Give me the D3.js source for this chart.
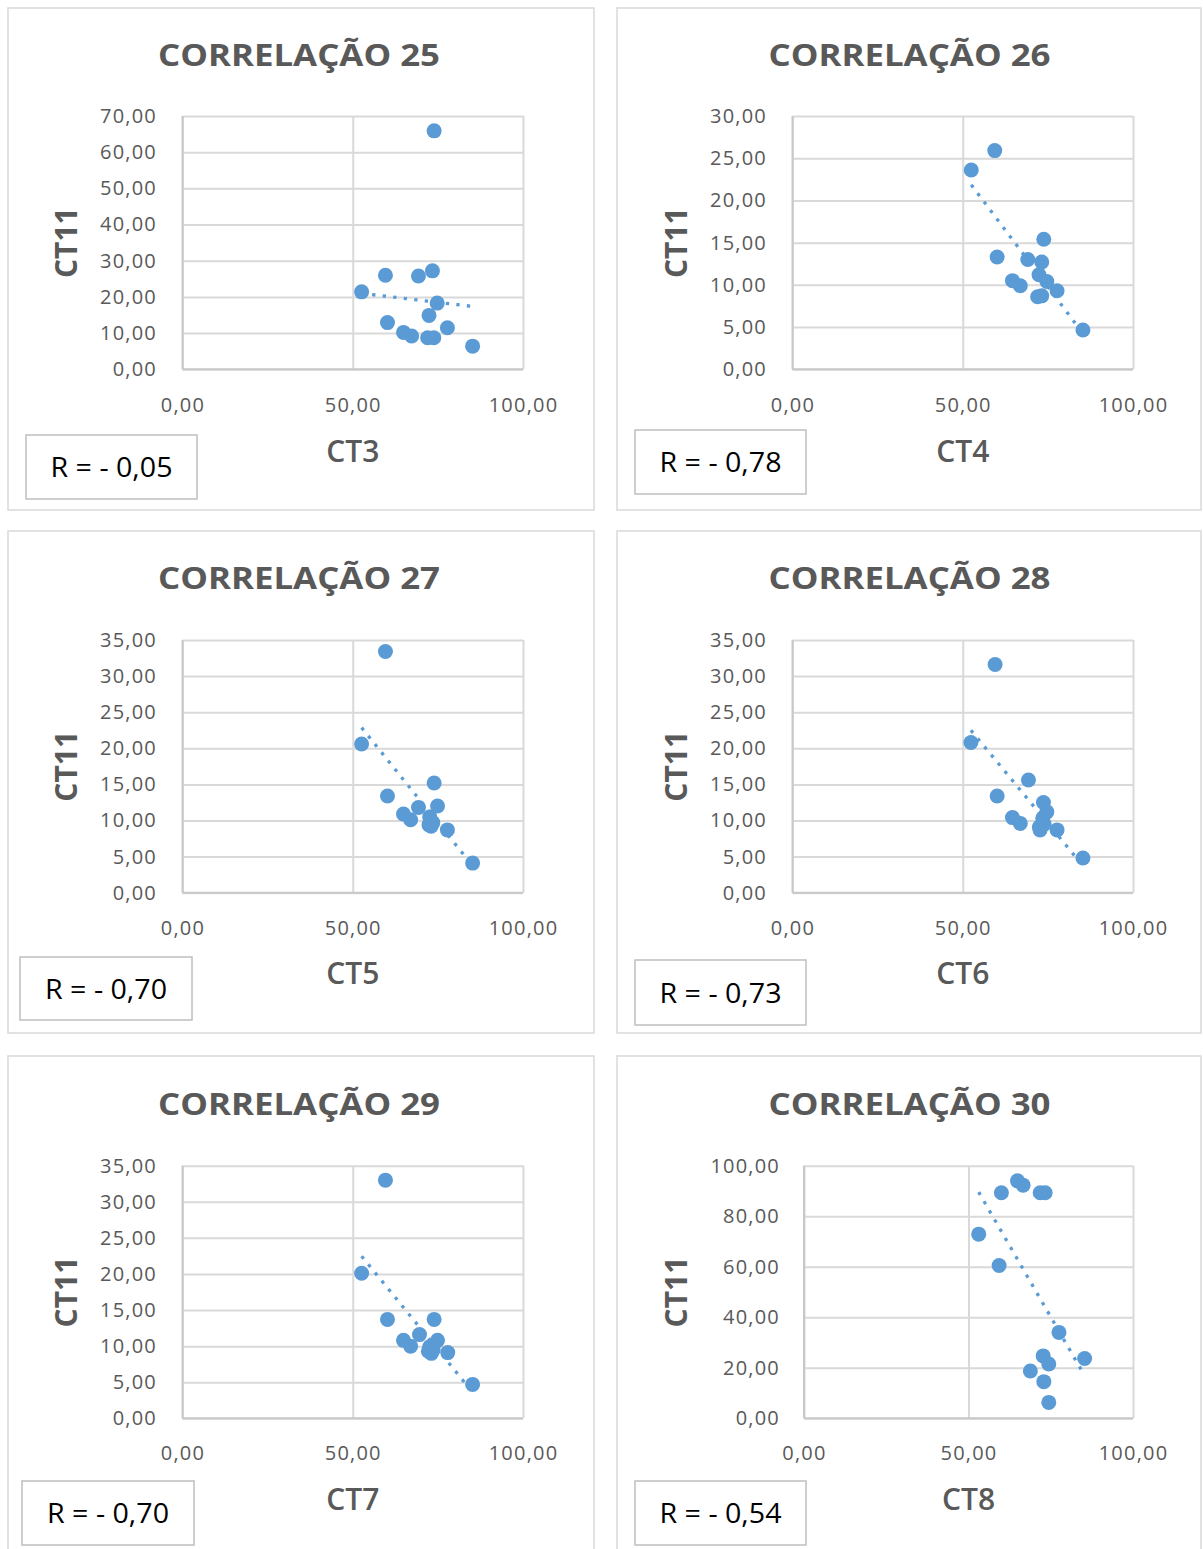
<!DOCTYPE html>
<html>
<head>
<meta charset="utf-8">
<script src="https://cdn.jsdelivr.net/npm/d3@7"></script>
<style>
  html, body { margin: 0; padding: 0; background: #fff; }
  svg { display: block; }
</style>
</head>
<body>
<svg id="chart" width="1203" height="1549"></svg>
<script>
// ---------- DATA ----------
const titles = ["CORRELAÇÃO 25", "CORRELAÇÃO 26", "CORRELAÇÃO 27", "CORRELAÇÃO 28", "CORRELAÇÃO 29", "CORRELAÇÃO 30"];
const xTitles = ["CT3", "CT4", "CT5", "CT6", "CT7", "CT8"];
const yTitle = "CT11";
const rLabels = ["R = - 0,05", "R = - 0,78", "R = - 0,70", "R = - 0,73", "R = - 0,70", "R = - 0,54"];
const yMaxes = [70, 30, 35, 35, 35, 100];
const ySteps = [10, 5, 5, 5, 5, 20];
const xTickValues = [0, 50, 100];

const ct3X = [52.6, 59.6, 60.2, 64.9, 67.3, 69.3, 72.0, 72.4, 73.4, 73.8, 73.9, 74.8, 77.8, 85.2];
const ct3Y = [21.4, 26.0, 12.9, 10.2, 9.2, 25.8, 8.7, 14.9, 27.2, 8.7, 65.9, 18.3, 11.5, 6.4];

const ct4X = [52.5, 59.4, 60.1, 64.6, 66.9, 69.1, 72.0, 72.4, 73.2, 73.2, 73.8, 74.7, 77.7, 85.3];
const ct4Y = [23.6, 25.9, 13.3, 10.5, 9.9, 13.0, 8.6, 11.2, 12.7, 8.7, 15.4, 10.4, 9.3, 4.65];

const ct5X = [52.6, 59.6, 60.2, 64.9, 67.0, 69.3, 72.4, 72.6, 73.0, 73.5, 73.9, 74.9, 77.8, 85.2];
const ct5Y = [20.6, 33.4, 13.4, 10.9, 10.1, 11.8, 9.4, 10.5, 9.2, 9.7, 15.2, 12.0, 8.7, 4.1];

const ct6X = [52.4, 59.5, 60.1, 64.6, 66.9, 69.3, 72.5, 72.7, 73.5, 73.7, 73.9, 74.7, 77.7, 85.3];
const ct6Y = [20.8, 31.6, 13.4, 10.4, 9.6, 15.6, 9.1, 8.7, 10.3, 12.5, 9.5, 11.2, 8.7, 4.8];

const ct7X = [52.6, 59.6, 60.2, 64.9, 67.0, 69.6, 72.2, 72.6, 73.1, 73.6, 73.9, 74.9, 77.9, 85.2];
const ct7Y = [20.1, 33.0, 13.7, 10.8, 10.0, 11.6, 9.3, 9.9, 9.0, 9.5, 13.7, 10.8, 9.1, 4.7];

const ct8X = [53.1, 59.3, 60.0, 64.9, 66.6, 68.8, 71.8, 72.7, 72.9, 73.3, 74.4, 74.4, 77.5, 85.3];
const ct8Y = [72.9, 60.5, 89.3, 94.0, 92.3, 18.7, 89.3, 24.7, 14.5, 89.3, 21.5, 6.3, 34.0, 23.7];

const seriesX = [ct3X, ct4X, ct5X, ct6X, ct7X, ct8X];
const seriesY = [ct3Y, ct4Y, ct5Y, ct6Y, ct7Y, ct8Y];

// ---------- LAYOUT ----------
const rows = [
  { top: 8,    plotTop: 116,    plotBot: 369.3,  titleY: 66,   tickY: 405,  xTitleY: 462 },
  { top: 531,  plotTop: 640,    plotBot: 892.7,  titleY: 589,  tickY: 928,  xTitleY: 984 },
  { top: 1056, plotTop: 1165.7, plotBot: 1418.3, titleY: 1115, tickY: 1453, xTitleY: 1510 }
];
const cols = [
  { left: 8,   width: 586, plotL: 182.5, plotR: 523,  titleX: 299,   yTitleX: 66,  tickRight: 157 },
  { left: 617, width: 584, plotL: 792.5, plotR: 1133, titleX: 909.5, yTitleX: 676, tickRight: 767 }
];
const rBoxes = [
  [26, 435, 171, 64], [635, 430, 171, 64],
  [20, 957, 172, 63], [635, 960, 171, 65],
  [22, 1481, 172, 64], [635, 1481, 171, 64]
];

const svg = d3.select("#chart");
const FONT = "'Open Sans', 'Noto Sans', sans-serif";
const GRAY = "#595959";
const BLUE = "#5b9bd5";
const fmt = v => d3.format(".2f")(v).replace(".", ",");

for (let i = 0; i < 6; i++) {
  const row = rows[Math.floor(i / 2)];
  const col = cols[i % 2];
  const g = svg.append("g");

  // panel border
  const panelH = (i >= 4) ? 520 : 502;
  g.append("rect")
    .attr("x", col.left).attr("y", row.top)
    .attr("width", col.width).attr("height", panelH)
    .attr("fill", "#fff").attr("stroke", "#d9d9d9").attr("stroke-width", 1.5);

  const plotL = (i === 5) ? 804 : col.plotL;
  const plotR = col.plotR;
  const tickRight = (i === 5) ? 780 : col.tickRight;
  const x = d3.scaleLinear().domain([0, 100]).range([plotL, plotR]);
  const y = d3.scaleLinear().domain([0, yMaxes[i]]).range([row.plotBot, row.plotTop]);
  const yTicks = d3.range(0, yMaxes[i] + ySteps[i] / 2, ySteps[i]);

  // y axis + horizontal gridlines
  const yg = g.append("g").attr("transform", `translate(${plotL},0)`).call(
    d3.axisLeft(y).tickValues(yTicks).tickSize(-(plotR - plotL)).tickFormat(fmt)
  );
  yg.select(".domain").remove();
  yg.selectAll(".tick line").attr("stroke", "#d9d9d9").attr("stroke-width", 2);
  yg.selectAll(".tick text")
    .attr("x", -(plotL - tickRight))
    .attr("fill", GRAY).attr("font-family", FONT).attr("font-size", 20)
    .attr("letter-spacing", 1.2);

  // x axis + vertical gridlines
  const xg = g.append("g").attr("transform", `translate(0,${row.plotBot})`).call(
    d3.axisBottom(x).tickValues(xTickValues).tickSize(-(row.plotBot - row.plotTop)).tickFormat(fmt)
  );
  xg.select(".domain").remove();
  xg.selectAll(".tick line").attr("stroke", "#d9d9d9").attr("stroke-width", 2);
  xg.selectAll(".tick text")
    .attr("y", row.tickY - row.plotBot).attr("dy", "0.35em")
    .attr("fill", GRAY).attr("font-family", FONT).attr("font-size", 20)
    .attr("letter-spacing", 1.2);

  // axis lines
  g.append("line").attr("x1", plotL).attr("x2", plotL).attr("y1", row.plotTop).attr("y2", row.plotBot)
    .attr("stroke", "#c8c8c8").attr("stroke-width", 2);
  g.append("line").attr("x1", plotL).attr("x2", plotR).attr("y1", row.plotBot).attr("y2", row.plotBot)
    .attr("stroke", "#c8c8c8").attr("stroke-width", 2);

  // trend line (least squares)
  const xs = seriesX[i], ys = seriesY[i];
  const mx = d3.mean(xs), my = d3.mean(ys);
  let sxy = 0, sxx = 0;
  xs.forEach((v, k) => { sxy += (v - mx) * (ys[k] - my); sxx += (v - mx) * (v - mx); });
  const slope = sxy / sxx, icpt = my - slope * mx;
  const ext = d3.extent(xs);
  g.append("line")
    .attr("x1", x(ext[0])).attr("y1", y(icpt + slope * ext[0]))
    .attr("x2", x(ext[1])).attr("y2", y(icpt + slope * ext[1]))
    .attr("stroke", BLUE).attr("stroke-width", 3.3).attr("stroke-dasharray", "3.3 7.3");

  // points
  g.selectAll("circle.pt").data(xs.map((v, k) => [v, ys[k]])).join("circle")
    .attr("class", "pt")
    .attr("cx", d => x(d[0])).attr("cy", d => y(d[1])).attr("r", 7.5)
    .attr("fill", BLUE);

  // title
  g.append("text").attr("x", col.titleX).attr("y", row.titleY)
    .attr("text-anchor", "middle").attr("font-family", FONT).attr("font-weight", "bold")
    .attr("font-size", 31).attr("fill", GRAY)
    .attr("textLength", 282).attr("lengthAdjust", "spacingAndGlyphs")
    .text(titles[i]);

  // axis titles
  const midX = (plotL + plotR) / 2;
  g.append("text").attr("x", midX).attr("y", row.xTitleY)
    .attr("text-anchor", "middle").attr("font-family", FONT).attr("font-weight", 600)
    .attr("font-size", 30).attr("fill", GRAY)
    .text(xTitles[i]);
  const midY = (row.plotTop + row.plotBot) / 2;
  g.append("text")
    .attr("transform", `translate(${col.yTitleX + 11},${midY}) rotate(-90)`)
    .attr("text-anchor", "middle").attr("font-family", FONT).attr("font-weight", "bold")
    .attr("font-size", 30).attr("fill", GRAY)
    .text(yTitle);

  // R box
  const [bx, by, bw, bh] = rBoxes[i];
  g.append("rect").attr("x", bx).attr("y", by).attr("width", bw).attr("height", bh)
    .attr("fill", "#fff").attr("stroke", "#bfbfbf").attr("stroke-width", 1.5);
  g.append("text").attr("x", bx + bw / 2).attr("y", by + bh / 2).attr("dy", "0.36em")
    .attr("text-anchor", "middle").attr("font-family", FONT).attr("font-size", 28).attr("fill", "#000")
    .attr("textLength", 122).attr("lengthAdjust", "spacingAndGlyphs")
    .text(rLabels[i]);
}
</script>
</body>
</html>
